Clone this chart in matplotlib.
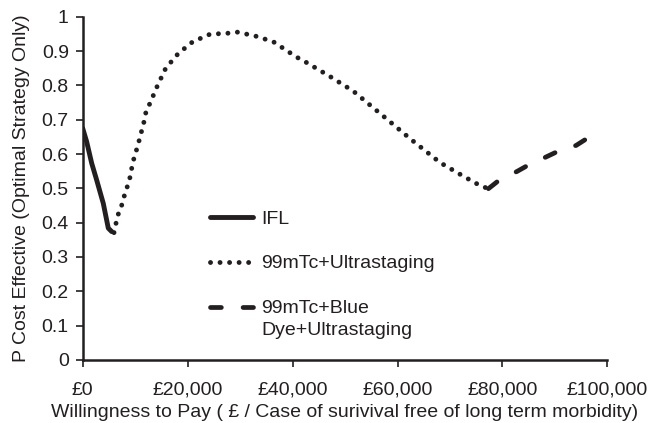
import matplotlib
matplotlib.use('Agg')
import matplotlib.pyplot as plt

plt.rcParams['font.family'] = ['Liberation Sans', 'DejaVu Sans']

# values
ifl_x = [0, 760, 1720, 2670, 3930, 4880, 5530]
ifl_y = [0.675, 0.636, 0.573, 0.524, 0.456, 0.384, 0.374]

ultra_x = [5970, 6350, 6790, 7440, 7930, 8500, 9020, 9340, 9780, 10300,
           10790, 11250, 11690, 12070, 12830, 14220, 15830, 18230, 20970,
           24270, 27760, 29480, 32850, 36340, 40800, 42380, 47020, 51590,
           57010, 62540, 68120, 72700, 75750, 77330]
ultra_y = [0.371, 0.398, 0.425, 0.451, 0.478, 0.505, 0.532, 0.558, 0.588, 0.614,
           0.641, 0.668, 0.694, 0.723, 0.748, 0.798, 0.85, 0.893, 0.927,
           0.949, 0.952, 0.955, 0.944, 0.927, 0.882, 0.869, 0.827, 0.783,
           0.714, 0.643, 0.575, 0.534, 0.508, 0.499]

blue_x = [77330, 79560, 82750, 84960, 88120, 90870, 94040, 96400]
blue_y = [0.499, 0.526, 0.549, 0.568, 0.590, 0.610, 0.625, 0.648]

labels = ['IFL', '99mTc+Ultrastaging', '99mTc+Blue\nDye+Ultrastaging']
x_ticks = [0, 20000, 40000, 60000, 80000, 100000]
x_labels = ['£0', '£20,000', '£40,000', '£60,000', '£80,000', '£100,000']
y_ticks = [0, 0.1, 0.2, 0.3, 0.4, 0.5, 0.6, 0.7, 0.8, 0.9, 1]
y_labels = ['0', '0.1', '0.2', '0.3', '0.4', '0.5', '0.6', '0.7', '0.8', '0.9', '1']

ink = '#231f20'
fs = 14

fig = plt.figure(figsize=(6.51, 4.23), dpi=100)
ax = fig.add_axes([0.127, 0.149, 0.806, 0.8115])

ax.plot(ifl_x, ifl_y, color=ink, lw=3.5, solid_capstyle='round', label=labels[0])
ax.plot(ultra_x, ultra_y, color=ink, lw=3.5, linestyle=(0, (0.01, 1.95)),
        dash_capstyle='round', label=labels[1])
ax.plot(blue_x, blue_y, color=ink, lw=3.4, linestyle=(0, (2.3, 4.6)),
        dash_capstyle='round', label=labels[2])

ax.set_xlim(0, 100000)
ax.set_ylim(0, 1)
ax.set_xticks(x_ticks)
ax.set_xticklabels(x_labels, fontsize=fs)
ax.set_yticks(y_ticks)
ax.set_yticklabels(y_labels, fontsize=fs)
ax.tick_params(direction='out', length=5, width=1.2, color=ink, labelcolor=ink)
ax.tick_params(axis='x', pad=10.5)
ax.tick_params(axis='y', pad=5)

for s in ['top', 'right']:
    ax.spines[s].set_visible(False)
for s in ['left', 'bottom']:
    ax.spines[s].set_linewidth(1.8)
    ax.spines[s].set_color(ink)

ax.set_xlabel('Willingness to Pay ( £ / Case of surivival free of long term morbidity)',
              fontsize=fs, color=ink, labelpad=4)
ax.set_ylabel('P Cost Effective (Optimal Strategy Only)', fontsize=fs, color=ink, labelpad=8)

leg = ax.legend(loc='upper left', bbox_to_anchor=(0.209, 0.488), frameon=False, fontsize=fs,
                handlelength=2.2, handletextpad=0.45, labelspacing=1.4, labelcolor=ink)
leg.get_texts()[2].set_linespacing(1.4)
# key of the two-line entry sits on its first line
h = leg.legend_handles[2]
h.set_ydata([y + 8.4 for y in h.get_ydata()])

fig.savefig('out.png', dpi=100)
